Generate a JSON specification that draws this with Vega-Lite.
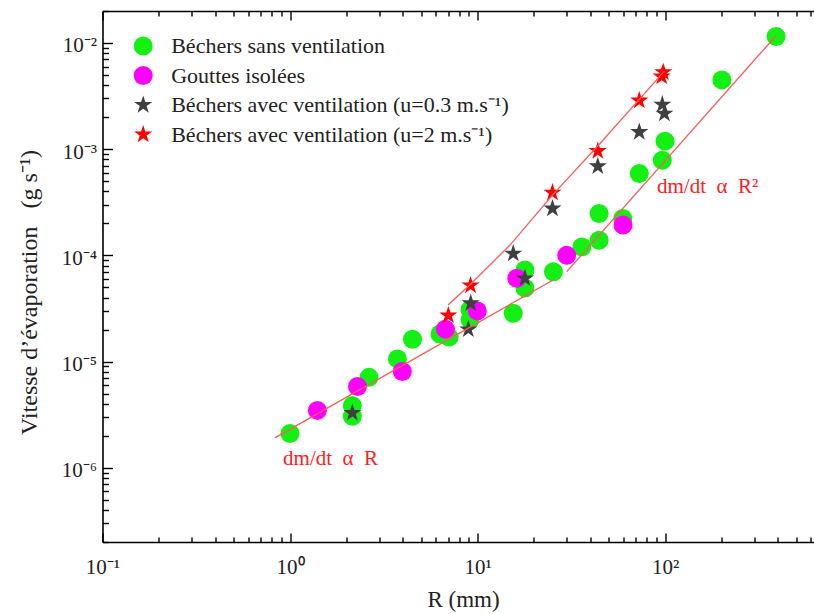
{
  "$schema": "https://vega.github.io/schema/vega-lite/v6.json",
  "width": 721,
  "height": 531,
  "autosize": "none",
  "padding": {"left": 102.5, "top": 11, "right": -9.5, "bottom": 72},
  "background": "white",
  "config": {
    "view": {"stroke": null},
    "font": "Liberation Serif",
    "axis": {
      "labelFont": "Liberation Serif",
      "labelFontSize": 21,
      "labelColor": "#222",
      "labelOverlap": false,
      "labelFlush": false,
      "labelBound": false,
      "titleFont": "Liberation Serif",
      "titleFontSize": 23,
      "titleFontWeight": "normal",
      "titleColor": "#222",
      "tickColor": "#000",
      "tickWidth": 1.4,
      "ticks": true,
      "domain": true,
      "domainColor": "#000",
      "domainWidth": 1.6,
      "grid": false
    }
  },
  "datasets": {
    "points": [
      {"serie": "Béchers sans ventilation", "R": 1.0, "V": 2.1e-6},
      {"serie": "Béchers sans ventilation", "R": 2.15, "V": 3.85e-6},
      {"serie": "Béchers sans ventilation", "R": 2.15, "V": 3.05e-6},
      {"serie": "Béchers sans ventilation", "R": 2.64, "V": 7.1e-6},
      {"serie": "Béchers sans ventilation", "R": 3.74, "V": 1.06e-5},
      {"serie": "Béchers sans ventilation", "R": 4.5, "V": 1.62e-5},
      {"serie": "Béchers sans ventilation", "R": 6.31, "V": 1.82e-5},
      {"serie": "Béchers sans ventilation", "R": 7.05, "V": 1.7e-5},
      {"serie": "Béchers sans ventilation", "R": 9.12, "V": 3.07e-5},
      {"serie": "Béchers sans ventilation", "R": 9.12, "V": 2.47e-5},
      {"serie": "Béchers sans ventilation", "R": 15.5, "V": 2.85e-5},
      {"serie": "Béchers sans ventilation", "R": 17.9, "V": 7.28e-5},
      {"serie": "Béchers sans ventilation", "R": 17.9, "V": 4.93e-5},
      {"serie": "Béchers sans ventilation", "R": 25.4, "V": 7.02e-5},
      {"serie": "Béchers sans ventilation", "R": 36.0, "V": 1.2e-4},
      {"serie": "Béchers sans ventilation", "R": 44.5, "V": 1.39e-4},
      {"serie": "Béchers sans ventilation", "R": 44.5, "V": 2.48e-4},
      {"serie": "Béchers sans ventilation", "R": 59.5, "V": 2.22e-4},
      {"serie": "Béchers sans ventilation", "R": 72.9, "V": 5.89e-4},
      {"serie": "Béchers sans ventilation", "R": 96.7, "V": 7.85e-4},
      {"serie": "Béchers sans ventilation", "R": 100, "V": 1.19e-3},
      {"serie": "Béchers sans ventilation", "R": 201, "V": 4.49e-3},
      {"serie": "Béchers sans ventilation", "R": 391, "V": 1.15e-2},
      {"serie": "Gouttes isolées", "R": 1.4, "V": 3.47e-6},
      {"serie": "Gouttes isolées", "R": 2.29, "V": 5.83e-6},
      {"serie": "Gouttes isolées", "R": 3.97, "V": 8.07e-6},
      {"serie": "Gouttes isolées", "R": 6.74, "V": 2.02e-5},
      {"serie": "Gouttes isolées", "R": 9.97, "V": 3.0e-5},
      {"serie": "Gouttes isolées", "R": 16.2, "V": 6.08e-5},
      {"serie": "Gouttes isolées", "R": 29.9, "V": 1.0e-4},
      {"serie": "Gouttes isolées", "R": 59.7, "V": 1.93e-4},
      {"serie": "Béchers avec ventilation (u=0.3 m.s⁻¹)", "R": 2.15, "V": 3.28e-6},
      {"serie": "Béchers avec ventilation (u=0.3 m.s⁻¹)", "R": 8.93, "V": 2.01e-5},
      {"serie": "Béchers avec ventilation (u=0.3 m.s⁻¹)", "R": 9.2, "V": 3.54e-5},
      {"serie": "Béchers avec ventilation (u=0.3 m.s⁻¹)", "R": 15.5, "V": 1.04e-4},
      {"serie": "Béchers avec ventilation (u=0.3 m.s⁻¹)", "R": 17.9, "V": 6.08e-5},
      {"serie": "Béchers avec ventilation (u=0.3 m.s⁻¹)", "R": 25.1, "V": 2.76e-4},
      {"serie": "Béchers avec ventilation (u=0.3 m.s⁻¹)", "R": 43.8, "V": 6.9e-4},
      {"serie": "Béchers avec ventilation (u=0.3 m.s⁻¹)", "R": 72.9, "V": 1.45e-3},
      {"serie": "Béchers avec ventilation (u=0.3 m.s⁻¹)", "R": 96.7, "V": 2.63e-3},
      {"serie": "Béchers avec ventilation (u=0.3 m.s⁻¹)", "R": 99.2, "V": 2.16e-3},
      {"serie": "Béchers avec ventilation (u=2 m.s⁻¹)", "R": 6.99, "V": 2.72e-5},
      {"serie": "Béchers avec ventilation (u=2 m.s⁻¹)", "R": 9.18, "V": 5.21e-5},
      {"serie": "Béchers avec ventilation (u=2 m.s⁻¹)", "R": 25.1, "V": 3.9e-4},
      {"serie": "Béchers avec ventilation (u=2 m.s⁻¹)", "R": 43.8, "V": 9.6e-4},
      {"serie": "Béchers avec ventilation (u=2 m.s⁻¹)", "R": 72.9, "V": 2.87e-3},
      {"serie": "Béchers avec ventilation (u=2 m.s⁻¹)", "R": 96.0, "V": 4.83e-3},
      {"serie": "Béchers avec ventilation (u=2 m.s⁻¹)", "R": 97.9, "V": 5.3e-3}
    ],
    "fits": [
      {"fit": "R", "R": 0.83, "V": 1.91e-6},
      {"fit": "R", "R": 25.3, "V": 5.86e-5},
      {"fit": "R2", "R": 29.9, "V": 7.02e-5},
      {"fit": "R2", "R": 391, "V": 1.17e-2},
      {"fit": "vent", "R": 6.97, "V": 3.41e-5},
      {"fit": "vent", "R": 9.12, "V": 5.28e-5},
      {"fit": "vent", "R": 14.9, "V": 1.25e-4},
      {"fit": "vent", "R": 25.3, "V": 3.75e-4},
      {"fit": "vent", "R": 45, "V": 1.13e-3},
      {"fit": "vent", "R": 99, "V": 5.4e-3}
    ],
    "notes": [
      {"label": "dm/dt\u00a0\u00a0α\u00a0\u00a0R", "R": 0.918, "V": 1.2e-6},
      {"label": "dm/dt\u00a0\u00a0α\u00a0\u00a0R²", "R": 90.6, "V": 4.37e-4}
    ]
  },
  "layer": [
    {
      "data": {"name": "points"},
      "mark": {"type": "point", "filled": true, "opacity": 1, "strokeWidth": 0},
      "encoding": {
        "x": {
          "field": "R", "type": "quantitative",
          "scale": {"type": "log", "domain": [0.1, 700], "nice": false},
          "axis": {
            "orient": "bottom",
            "values": [0.1,0.2,0.3,0.4,0.5,0.6,0.7,0.8,0.9,1,2,3,4,5,6,7,8,9,10,20,30,40,50,60,70,80,90,100,200,300,400,500,600,700],
            "labelExpr": "datum.value==0.1?'10⁻¹':datum.value==1?'10⁰':datum.value==10?'10¹':datum.value==100?'10²':''",
            "tickSize": {"condition": {"test": "abs(log(datum.value)/LN10 - round(log(datum.value)/LN10)) < 0.001", "value": -9}, "value": -5},
            "labelPadding": 23,
            "title": "R (mm)",
            "titlePadding": 7
          }
        },
        "y": {
          "field": "V", "type": "quantitative",
          "scale": {"type": "log", "domain": [2e-7, 0.02], "nice": false},
          "axis": {
            "orient": "left",
            "values": [2e-7,3e-7,4e-7,5e-7,6e-7,7e-7,8e-7,9e-7,1e-6,2e-6,3e-6,4e-6,5e-6,6e-6,7e-6,8e-6,9e-6,1e-5,2e-5,3e-5,4e-5,5e-5,6e-5,7e-5,8e-5,9e-5,1e-4,2e-4,3e-4,4e-4,5e-4,6e-4,7e-4,8e-4,9e-4,1e-3,2e-3,3e-3,4e-3,5e-3,6e-3,7e-3,8e-3,9e-3,1e-2,2e-2],
            "labelExpr": "datum.value==0.01?'10⁻²':datum.value==0.001?'10⁻³':datum.value==0.0001?'10⁻⁴':datum.value==0.00001?'10⁻⁵':datum.value==0.000001?'10⁻⁶':''",
            "tickSize": {"condition": {"test": "abs(log(datum.value)/LN10 - round(log(datum.value)/LN10)) < 0.001", "value": -10}, "value": -6},
            "labelPadding": 16,
            "labelOffset": 3,
            "title": "Vitesse d’évaporation\u00a0\u00a0\u00a0(g s⁻¹)",
            "titleFontSize": 24,
            "titlePadding": 20,
            "titleY": 281
          }
        },
        "color": {
          "field": "serie", "type": "nominal",
          "scale": {
            "domain": ["Béchers sans ventilation", "Gouttes isolées", "Béchers avec ventilation (u=0.3 m.s⁻¹)", "Béchers avec ventilation (u=2 m.s⁻¹)"],
            "range": ["#14f014", "#ff00ff", "#404040", "#ff0000"]
          },
          "legend": {
            "title": null,
            "orient": "none",
            "legendX": 29.7,
            "legendY": 24,
            "padding": 0,
            "labelFont": "Liberation Serif",
            "labelFontSize": 22,
            "labelColor": "#222",
            "labelLimit": 700,
            "labelOffset": 17,
            "rowPadding": 7.5,
            "symbolStrokeWidth": 0
          }
        },
        "shape": {
          "field": "serie", "type": "nominal",
          "scale": {
            "domain": ["Béchers sans ventilation", "Gouttes isolées", "Béchers avec ventilation (u=0.3 m.s⁻¹)", "Béchers avec ventilation (u=2 m.s⁻¹)"],
            "range": ["circle", "circle", "M0,-1L0.2245,-0.309L0.951,-0.309L0.3633,0.118L0.588,0.809L0,0.382L-0.588,0.809L-0.3633,0.118L-0.951,-0.309L-0.2245,-0.309Z", "M0,-1L0.2245,-0.309L0.951,-0.309L0.3633,0.118L0.588,0.809L0,0.382L-0.588,0.809L-0.3633,0.118L-0.951,-0.309L-0.2245,-0.309Z"]
          }
        },
        "size": {
          "field": "serie", "type": "nominal",
          "scale": {
            "domain": ["Béchers sans ventilation", "Gouttes isolées", "Béchers avec ventilation (u=0.3 m.s⁻¹)", "Béchers avec ventilation (u=2 m.s⁻¹)"],
            "range": [361, 361, 441, 441]
          }
        }
      }
    },
    {
      "data": {"name": "fits"},
      "mark": {"type": "line", "color": "#ff5a5a", "strokeWidth": 1.3},
      "encoding": {
        "x": {
          "field": "R", "type": "quantitative",
          "scale": {"type": "log", "domain": [0.1, 700], "nice": false},
          "axis": {
            "orient": "top",
            "values": [0.1,0.2,0.3,0.4,0.5,0.6,0.7,0.8,0.9,1,2,3,4,5,6,7,8,9,10,20,30,40,50,60,70,80,90,100,200,300,400,500,600,700],
            "labels": false,
            "title": null,
            "tickSize": {"condition": {"test": "abs(log(datum.value)/LN10 - round(log(datum.value)/LN10)) < 0.001", "value": -9}, "value": -5}
          }
        },
        "y": {
          "field": "V", "type": "quantitative",
          "scale": {"type": "log", "domain": [2e-7, 0.02], "nice": false},
          "axis": {
            "orient": "right",
            "values": [2e-7,3e-7,4e-7,5e-7,6e-7,7e-7,8e-7,9e-7,1e-6,2e-6,3e-6,4e-6,5e-6,6e-6,7e-6,8e-6,9e-6,1e-5,2e-5,3e-5,4e-5,5e-5,6e-5,7e-5,8e-5,9e-5,1e-4,2e-4,3e-4,4e-4,5e-4,6e-4,7e-4,8e-4,9e-4,1e-3,2e-3,3e-3,4e-3,5e-3,6e-3,7e-3,8e-3,9e-3,1e-2,2e-2],
            "labels": false,
            "title": null,
            "domain": false,
            "tickSize": {"condition": {"test": "abs(log(datum.value)/LN10 - round(log(datum.value)/LN10)) < 0.001", "value": -10}, "value": -6}
          }
        },
        "detail": {"field": "fit", "type": "nominal"}
      }
    },
    {
      "data": {"name": "notes"},
      "mark": {"type": "text", "align": "left", "baseline": "middle", "font": "Liberation Serif", "fontSize": 21, "color": "#ff2020"},
      "encoding": {
        "x": {"field": "R", "type": "quantitative", "scale": {"type": "log", "domain": [0.1, 700], "nice": false}, "axis": null},
        "y": {"field": "V", "type": "quantitative", "scale": {"type": "log", "domain": [2e-7, 0.02], "nice": false}, "axis": null},
        "text": {"field": "label"}
      }
    }
  ],
  "resolve": {"axis": {"x": "independent", "y": "independent"}}
}
